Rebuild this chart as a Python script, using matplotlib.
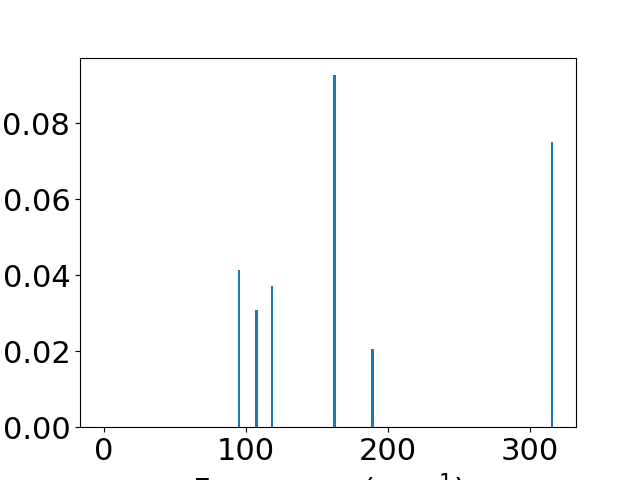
import matplotlib
matplotlib.use("Agg")
import matplotlib.pyplot as plt

# vibrational modes: frequency (cm^-1) and intensity
frequencies = [0.0, 0.0, 0.0, 95.1, 107.3, 118.3, 162.2, 188.8, 315.4]
intensities = [0.0, 0.0, 0.0, 0.0413, 0.0308, 0.0371, 0.0926, 0.0207, 0.0749]

plt.rcParams["font.size"] = 22

fig = plt.figure(figsize=(6.4, 4.8), dpi=100)
ax = fig.add_subplot(111)

ax.bar(frequencies, intensities, width=2)
ax.set_xlabel("Frequency (cm$^{-1}$)")

fig.savefig("out.png", dpi=100)
